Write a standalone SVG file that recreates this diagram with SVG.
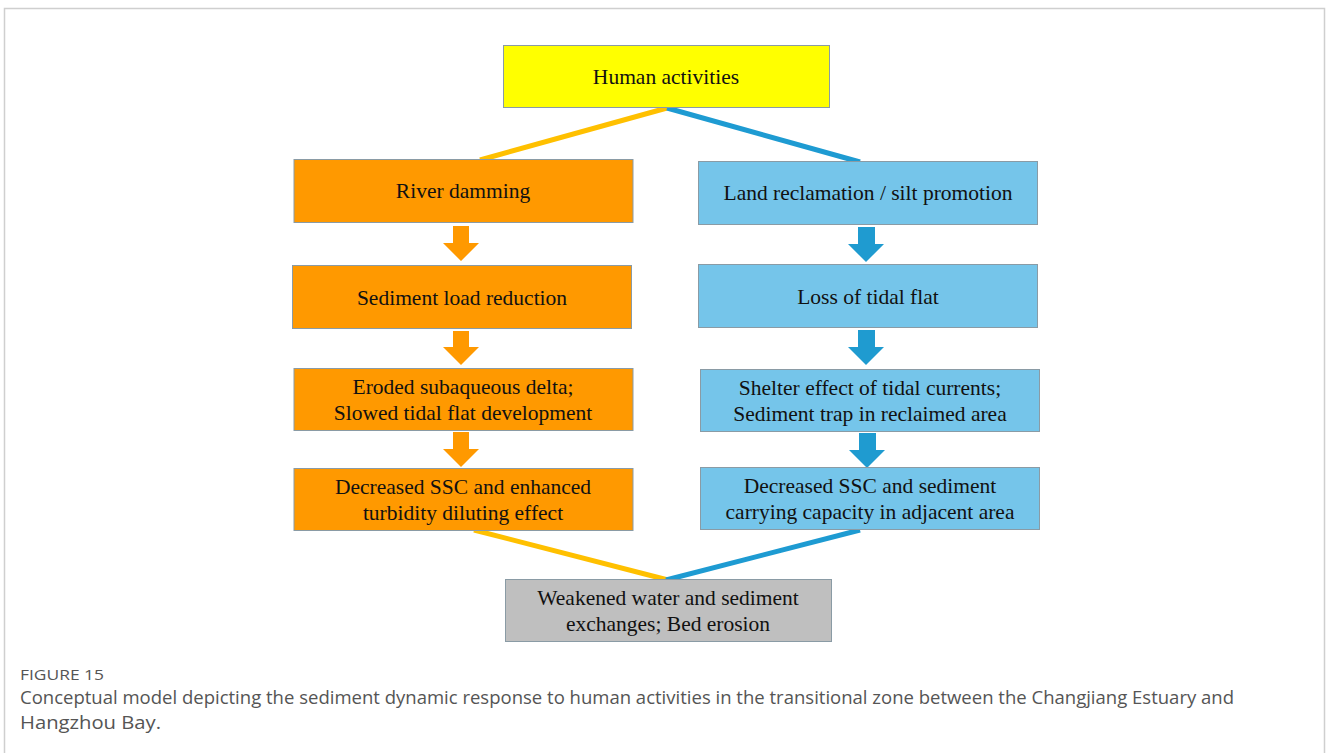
<svg xmlns="http://www.w3.org/2000/svg" width="1328" height="753" viewBox="0 0 1328 753">
<style>
.box{stroke:#8a9ba5;stroke-width:1}
.or{fill:#FF9900}
.bl{fill:#75C5EA}
.t{font-family:"Liberation Serif","Times New Roman",serif;font-size:21.5px;fill:#111;text-anchor:middle}
.ly{stroke:#FFC000;stroke-width:5;fill:none}
.lb{stroke:#1E9BD2;stroke-width:5;fill:none}
.ao{fill:#FF9900}
.ab{fill:#1F9BD0}
.cap{font-family:"Open Sans","Liberation Sans",sans-serif;fill:#555}
</style>
<rect x="0" y="0" width="1328" height="753" fill="#fff"/>
<path d="M4.5 760 V8.5 H1324.5 V760" fill="none" stroke="#cfcfcf" stroke-width="1.5"/>
<g id="connectors">
<line class="ly" x1="667" y1="108" x2="480" y2="160"/>
<line class="lb" x1="667" y1="108" x2="860" y2="162"/>
<line class="ly" x1="474" y1="530" x2="668" y2="580"/>
<line class="lb" x1="860" y1="530" x2="666" y2="580"/>
<path class="ao" d="M453 226 H469 V243 H479 L461 261 L443 243 H453 Z"/>
<path class="ao" d="M453 331 H469 V347 H479 L461 365 L443 347 H453 Z"/>
<path class="ao" d="M453 432 H469 V449 H479 L461 467 L443 449 H453 Z"/>
<path class="ab" d="M858 227 H875 V244 H884 L866 262 L848 244 H858 Z"/>
<path class="ab" d="M858 330 H875 V347 H884 L866 365 L848 347 H858 Z"/>
<path class="ab" d="M859 433 H876 V450 H885 L867 468 L849 450 H859 Z"/>
</g>
<g id="n-human"><rect class="box" x="503.5" y="45.5" width="326" height="62" fill="#FFFF00"/><text class="t" x="666" y="84">Human activities</text></g>
<g id="n-dam"><rect class="box or" x="294" y="159.5" width="339" height="63"/><text class="t" x="463" y="198">River damming</text></g>
<g id="n-land"><rect class="box bl" x="698.5" y="161.5" width="339" height="63"/><text class="t" x="868" y="200">Land reclamation / silt promotion</text></g>
<g id="n-sed"><rect class="box or" x="292.5" y="265.5" width="339" height="63"/><text class="t" x="462" y="305">Sediment load reduction</text></g>
<g id="n-loss"><rect class="box bl" x="698.5" y="264.5" width="339" height="63"/><text class="t" x="868" y="304">Loss of tidal flat</text></g>
<g id="n-eroded"><rect class="box or" x="294" y="368.5" width="339" height="62"/><text class="t" x="463" y="394">Eroded subaqueous delta;</text><text class="t" x="463" y="420">Slowed tidal flat development</text></g>
<g id="n-shelter"><rect class="box bl" x="700.5" y="369.5" width="339" height="62"/><text class="t" x="870" y="395">Shelter effect of tidal currents;</text><text class="t" x="870" y="421">Sediment trap in reclaimed area</text></g>
<g id="n-dec-left"><rect class="box or" x="294" y="468.5" width="339" height="62"/><text class="t" x="463" y="494">Decreased SSC and enhanced</text><text class="t" x="463" y="520">turbidity diluting effect</text></g>
<g id="n-dec-right"><rect class="box bl" x="700.5" y="467.5" width="339" height="62"/><text class="t" x="870" y="493">Decreased SSC and sediment</text><text class="t" x="870" y="519">carrying capacity in adjacent area</text></g>
<g id="n-weak"><rect class="box" x="505.5" y="579.5" width="326" height="62" fill="#BFBFBF"/><text class="t" x="668" y="605">Weakened water and sediment</text><text class="t" x="668" y="631">exchanges; Bed erosion</text></g>
<text class="cap" x="20" y="680" font-size="15" textLength="84" lengthAdjust="spacingAndGlyphs">FIGURE 15</text>
<text class="cap" x="20" y="704" font-size="18" textLength="1214" lengthAdjust="spacingAndGlyphs">Conceptual model depicting the sediment dynamic response to human activities in the transitional zone between the Changjiang Estuary and</text>
<text class="cap" x="20" y="729" font-size="18" textLength="141" lengthAdjust="spacingAndGlyphs">Hangzhou Bay.</text>
</svg>
